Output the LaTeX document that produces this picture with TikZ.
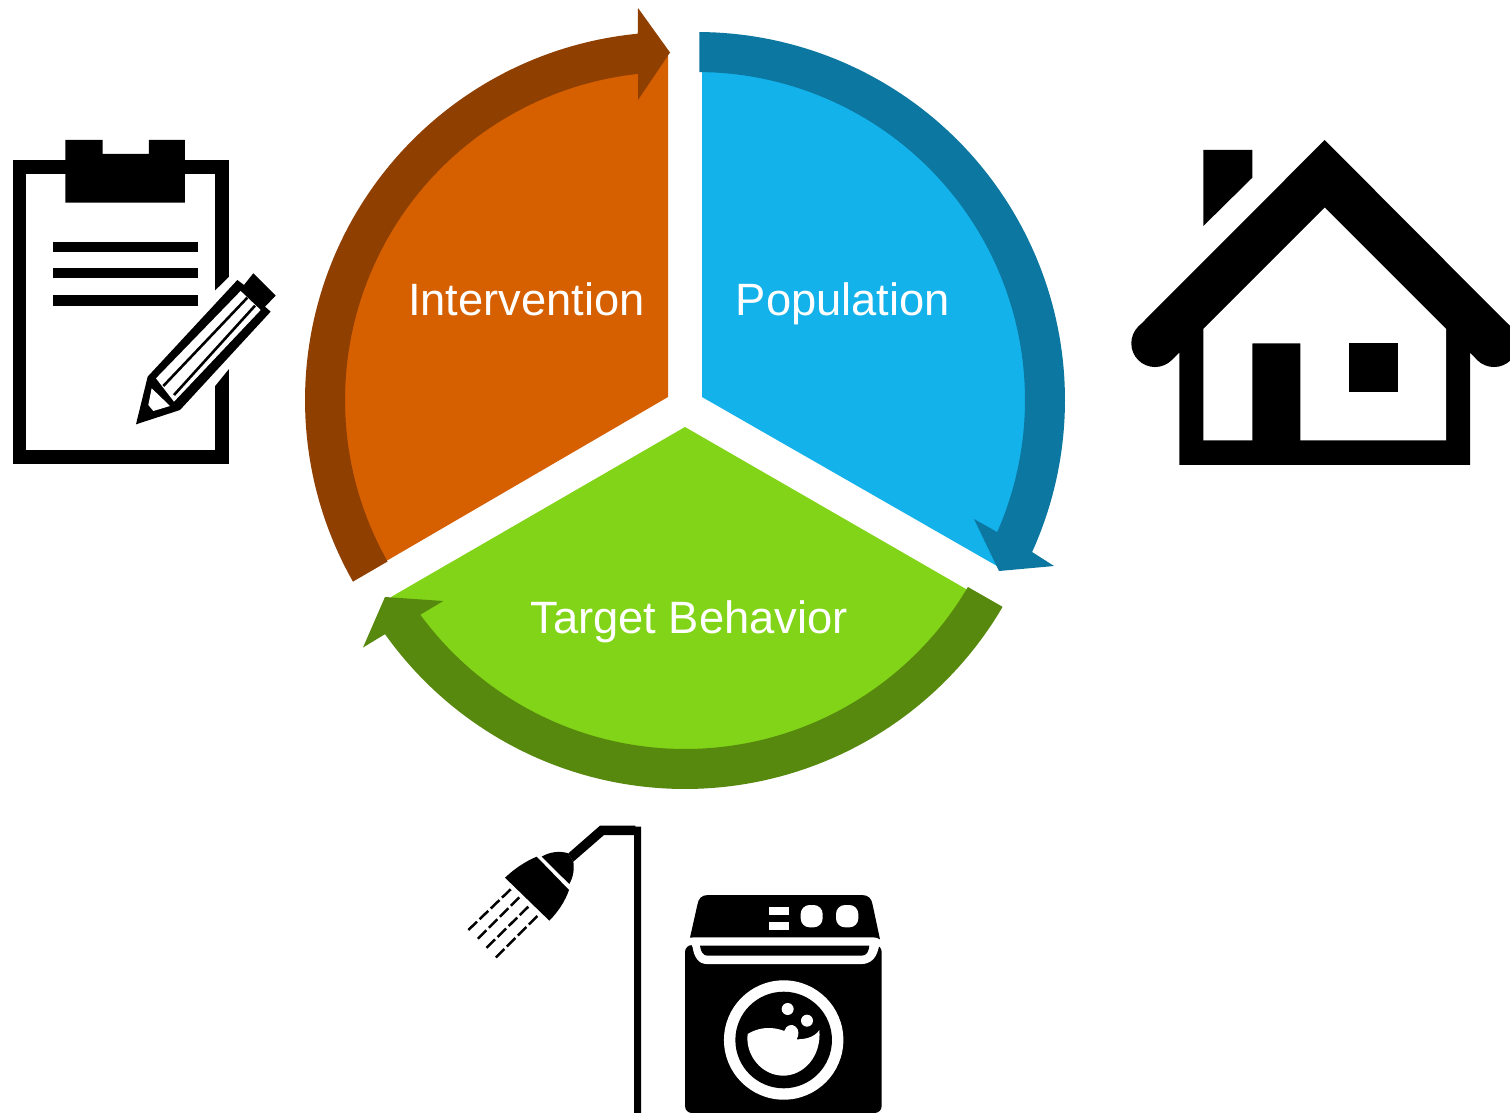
\documentclass[tikz,border=0pt]{standalone}
\usepackage{fontspec}
\setmainfont{Liberation Sans}
\definecolor{orangeFill}{HTML}{D65F00}
\definecolor{orangeBand}{HTML}{8F3F00}
\definecolor{blueFill}{HTML}{13B2EB}
\definecolor{blueBand}{HTML}{0C77A0}
\definecolor{greenFill}{HTML}{82D418}
\definecolor{greenBand}{HTML}{57890F}
\tikzset{
  seglabel/.style={text=white,inner sep=0pt,anchor=base,font=\fontsize{45.3}{50}\selectfont},
  tripx/.style={x=0.33333pt,y=-0.33333pt},
  arcsample/.style={samples=90},
}
\begin{document}
\begin{tikzpicture}[x=1pt,y=-1pt]
\clip (0,0) rectangle (1510,1113);
\fill[white] (0,0) rectangle (1510,1113);
% ---- segments
\fill[orangeFill] (668,397) -- (388,560) -- plot[domain=150.8:265,arcsample] ({673+335*cos(\x)},{400+335*sin(\x)}) -- (650,56) -- (668,56) -- cycle;
\fill[blueFill] (702,397) -- (702,60) -- plot[domain=-88:20,arcsample] ({697+335*cos(\x)},{400+335*sin(\x)}) -- (997,566) -- cycle;
\fill[greenFill] (685,427) -- (966,589) -- plot[domain=32:143,arcsample] ({685+335*cos(\x)},{421+335*sin(\x)}) -- (391,597) -- cycle;
% ---- arrow bands
\fill[orangeBand] (354,581) -- plot[domain=150.4:264.5,arcsample] ({673+368*cos(\x)},{400+368*sin(\x)}) -- (638,8) -- (670,52.5) -- (638,100) -- plot[domain=263.9:150.5,arcsample] ({673+328*cos(\x)},{400+328*sin(\x)}) -- cycle;
\fill[blueBand] (699.3,32) -- plot[domain=-89.7:24.4,arcsample] ({697+368*cos(\x)},{400+368*sin(\x)}) -- (1054,566) -- (999,571) -- (974,519) -- plot[domain=23.75:-89.6,arcsample] ({697+328*cos(\x)},{400+328*sin(\x)}) -- cycle;
\fill[greenBand] (1002,606.5) -- plot[domain=30.4:144.6,arcsample] ({685+368*cos(\x)},{421+368*sin(\x)}) -- (363,647.5) -- (385,597) -- (443.3,601) -- plot[domain=143.8:30.4,arcsample] ({685+328*cos(\x)},{421+328*sin(\x)}) -- cycle;
% ---- labels
\node[seglabel] (intervention) at (526.5,315) {Intervention};
\node[seglabel] (population) at (843,315) {Population};
\node[seglabel] (target) at (689,633) {Target Behavior};
% ---- clipboard (zoom coordinates, 3x)
\begin{scope}[yshift=-130pt,tripx]
\fill[black] (39,90) rectangle (687,1003);
\fill[white] (79,132) rectangle (646,960);
\fill[black] (196,30) -- (308,30) -- (308,72) -- (447,72) -- (447,30) -- (555,30) -- (555,218) -- (196,218) -- cycle;
\fill[black] (159,335) rectangle (593,365);
\fill[black] (159,413) rectangle (593,445);
\fill[black] (159,495) rectangle (593,528);
\fill[white] (645,482) -- (692,436) -- (692,710) -- (645,768) -- cycle;
% pencil
\fill[black] (408,883) -- (443,740) -- (712,450) -- (732,465) -- (760,430) -- (827,497) -- (795,530) -- (812,545) -- (540,840) -- cycle;
\fill[white] (468,745) -- (722,483) -- (782,540) -- (522,815) -- cycle;
\draw[black,line width=2.6pt] (490,768) -- (742,503);
\draw[black,line width=2.6pt] (522,795) -- (765,527);
\fill[white] (445,825) -- (455,775) -- (510,828) -- (460,843) -- cycle;
\end{scope}
% ---- house
\begin{scope}[xshift=1120pt,yshift=-130pt,tripx]
\fill[black] (614,30) -- (55,590) -- (155,690) -- (178,668) -- (178,1005) -- (1050,1005) -- (1050,668) -- (1072,690) -- (1172,590) -- cycle;
\fill[black] (105,640) circle[radius=23.7pt];
\fill[black] (1122,640) circle[radius=23.7pt];
\fill[white] (250,597) -- (614,233) -- (978,597) -- (978,931) -- (541,931) -- (541,640) -- (397,640) -- (397,931) -- (250,931) -- cycle;
\fill[black] (687,640) rectangle (833,787);
\fill[black] (250,60) -- (397,60) -- (397,143) -- (250,288) -- cycle;
\end{scope}
% ---- shower
\begin{scope}[xshift=450pt,yshift=-810pt,tripx]
\fill[black] (450,47) -- (556,47) -- (556,50) -- (573,50) -- (573,920) -- (552,920) -- (552,75) -- (462,75) -- (370,155) -- (355,130) -- cycle;
\fill[black] (275,140) .. controls (300,125) and (330,122) .. (355,130) -- (370,155) .. controls (374,180) and (368,205) .. (358,222) -- cycle;
\fill[black] (165,203) .. controls (195,175) and (225,155) .. (260,140) -- (357,240) .. controls (345,275) and (322,308) .. (298,332) -- cycle;
\foreach \a/\b/\c/\d in {182/238/55/360,208/262/82/388,235/290/108/415,262/318/135/445}
  \draw[black,line width=2.5pt,dash pattern=on 12pt off 3.55pt] (\a,\b) -- (\c,\d);
\end{scope}
% ---- washer
\begin{scope}[xshift=450pt,yshift=-810pt,tripx]
\fill[black,rounded corners=7pt] (705,405) rectangle (1295,909);
\fill[white] (715,383) -- (1295,383) -- (1284,420) .. controls (1278,445) and (1260,462) .. (1235,462) -- (770,462) .. controls (745,462) and (732,440) .. (728,412) -- cycle;
\fill[black] (750,407) -- (1258,407) .. controls (1256,425) and (1250,437) .. (1235,437) -- (772,437) .. controls (760,437) and (752,425) .. (750,407) -- cycle;
\fill[black] (720,383) -- (742,285) .. controls (745,265) and (755,255) .. (775,255) -- (1235,255) .. controls (1255,255) and (1265,265) .. (1268,285) -- (1290,388) .. controls (1280,382) and (1275,382) .. (1265,382) -- (745,382) .. controls (735,382) and (728,382) .. (720,383) -- cycle;
\fill[white] (958,290) rectangle (1018,315);
\fill[white] (958,335) rectangle (1018,360);
\fill[white,rounded corners=9pt] (1052,285) rectangle (1118,352);
\fill[white,rounded corners=9pt] (1158,285) rectangle (1225,352);
\fill[white] (1001,690) circle[radius=59.7pt];
\fill[black] (1001,690) circle[radius=48.3pt];
\fill[white] (893,672) .. controls (925,652) and (965,648) .. (1003,663) .. controls (1008,645) and (1025,640) .. (1037,650) .. controls (1048,660) and (1047,675) .. (1040,688) .. controls (1070,688) and (1095,680) .. (1108,660) .. controls (1115,740) and (1060,797) .. (1000,797) .. controls (935,797) and (885,735) .. (893,672) -- cycle;
\fill[white] (1013,597) circle[radius=6pt];
\fill[white] (1071,632) circle[radius=6pt];
\end{scope}
\end{tikzpicture}
\end{document}
